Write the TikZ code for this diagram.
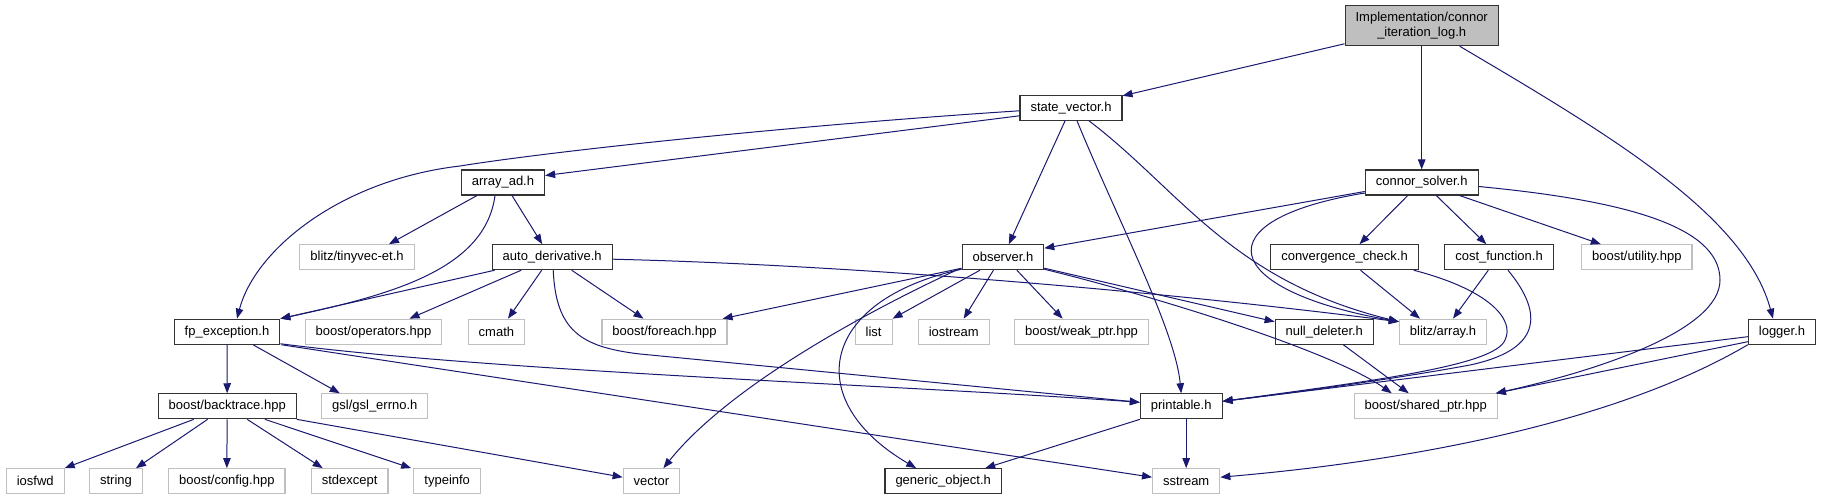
\documentclass[tikz,border=0pt]{standalone}
\usepackage{fontspec}
\setmainfont{Liberation Sans}
\usetikzlibrary{arrows.meta,calc}
\definecolor{edgeblue}{HTML}{191970}
\definecolor{gseventyfive}{HTML}{BFBFBF}
\tikzset{
  box/.style={rectangle, font=\fontsize{13}{15.3}\selectfont, inner xsep=10.5pt, inner ysep=0pt, minimum height=25pt, line width=1.1pt, fill=white},
  fnode/.style={box, draw=black!80},
  gnode/.style={box, draw=gseventyfive},
  rootnode/.style={box, draw=black!80, fill=gseventyfive, align=center, minimum height=40pt},
  edge/.style={draw=edgeblue, line width=1pt, -{Triangle[length=10pt,width=7.5pt]}}
}
\begin{document}
\begin{tikzpicture}[x=1pt,y=-1pt]
\useasboundingbox (0,0) rectangle (1821,500);
% nodes
\node[rootnode] (root) at (1421.7,25.7) {Implementation/connor\\\_iteration\_log.h};
\node[fnode] (state) at (1071,107.8) {state\_vector.h};
\node[fnode] (arrayad) at (503,182.5) {array\_ad.h};
\node[fnode] (connor) at (1421.7,182.5) {connor\_solver.h};
\node[gnode] (tinyvec) at (357,257.2) {blitz/tinyvec-et.h};
\node[fnode] (autod) at (552.2,257.2) {auto\_derivative.h};
\node[fnode] (observer) at (1002.9,257.2) {observer.h};
\node[fnode] (convcheck) at (1344.5,257.2) {convergence\_check.h};
\node[fnode] (costfn) at (1499,257.2) {cost\_function.h};
\node[gnode] (utility) at (1636.8,257.2) {boost/utility.hpp};
\node[fnode] (fpexc) at (227,331.7) {fp\_exception.h};
\node[gnode] (operators) at (373.5,331.7) {boost/operators.hpp};
\node[gnode] (cmath) at (496.4,331.7) {cmath};
\node[gnode] (foreach) at (664.5,331.7) {boost/foreach.hpp};
\node[gnode] (list) at (873.6,331.7) {list};
\node[gnode] (iostream) at (953.7,331.7) {iostream};
\node[gnode] (weakptr) at (1081.6,331.7) {boost/weak\_ptr.hpp};
\node[fnode] (nulldel) at (1324.3,331.7) {null\_deleter.h};
\node[gnode] (blitzarr) at (1443,331.7) {blitz/array.h};
\node[fnode] (logger) at (1782,331.7) {logger.h};
\node[fnode] (backtrace) at (227.2,406.3) {boost/backtrace.hpp};
\node[gnode] (gslerrno) at (374.8,406.3) {gsl/gsl\_errno.h};
\node[fnode] (printable) at (1181.2,406.3) {printable.h};
\node[gnode] (sharedptr) at (1425.7,406.3) {boost/shared\_ptr.hpp};
\node[gnode] (iosfwd) at (35.2,481.2) {iosfwd};
\node[gnode] (string) at (116,481.2) {string};
\node[gnode] (config) at (226.8,481.2) {boost/config.hpp};
\node[gnode] (stdexcept) at (349.7,481.2) {stdexcept};
\node[gnode] (typeinfo) at (447.2,481.2) {typeinfo};
\node[gnode] (vector) at (651.4,481.2) {vector};
\node[fnode] (genobj) at (943.2,481.2) {generic\_object.h};
\node[gnode] (sstream) at (1186.2,481.2) {sstream};
% edges from root
\draw[edge] (root) -- (state);
\draw[edge] (root) -- (connor);
\draw[edge] ($(root.south)+(38,0)$) .. controls (1610,135) and (1745,215) .. ($(logger.north)+(-9,0)$);
% state_vector
\draw[edge] ($(state.west)+(0,3)$) .. controls (800,125) and (560,150) .. (460,166) .. controls (340,180) and (255,250) .. ($(fpexc.north)+(10,0)$);
\draw[edge] ($(state.west)+(0,8)$) -- ($(arrayad.east)+(0,-7)$);
\draw[edge] (state) -- (observer);
\draw[edge] ($(state.south)+(6,0)$) .. controls (1120,225) and (1175,330) .. (printable.north);
\draw[edge] ($(state.south)+(18,0)$) .. controls (1180,190) and (1230,280) .. ($(blitzarr.west)+(0,-10)$);
% array_ad
\draw[edge] ($(arrayad.south)+(-26,0)$) -- ($(tinyvec.north)+(32,0)$);
\draw[edge] ($(arrayad.south)+(9,0)$) -- ($(autod.north)+(-10,0)$);
\draw[edge] ($(arrayad.south)+(-8,0)$) .. controls (485,270) and (390,295) .. (fpexc.north east);
% auto_derivative
\draw[edge] ($(autod.south west)+(3,0)$) -- (fpexc.north east);
\draw[edge] ($(autod.south)+(-31,0)$) -- ($(operators.north)+(36,0)$);
\draw[edge] ($(autod.south)+(-10.5,0)$) -- ($(cmath.north)+(11.6,0)$);
\draw[edge] ($(autod.south)+(19.5,0)$) -- ($(foreach.north)+(-21,0)$);
\draw[edge] ($(autod.south)+(1,0)$) .. controls (556,330) and (580,347) .. (640,354) -- ($(printable.west)+(0,-4)$);
\draw[edge] ($(autod.east)+(0,2)$) .. controls (850,265) and (1150,290) .. ($(blitzarr.west)+(0,-10)$);
% fp_exception
\draw[edge] (fpexc) -- (backtrace);
\draw[edge] ($(fpexc.south)+(26,0)$) -- ($(gslerrno.north)+(-35,0)$);
\draw[edge] ($(fpexc.south east)+(0,-1)$) .. controls (500,372) and (900,385) .. ($(printable.west)+(0,-4)$);
\draw[edge] ($(fpexc.south east)+(1,0)$) -- ($(sstream.west)+(0,-4)$);
% backtrace
\draw[edge] ($(backtrace.south)+(-33.5,0)$) -- (iosfwd.north east);
\draw[edge] ($(backtrace.south)+(-19.6,0)$) -- ($(string.north)+(20,0)$);
\draw[edge] (backtrace) -- (config);
\draw[edge] ($(backtrace.south)+(20,0)$) -- ($(stdexcept.north)+(-27,0)$);
\draw[edge] ($(backtrace.south)+(37.7,0)$) -- ($(typeinfo.north)+(-36,0)$);
\draw[edge] (backtrace.south east) -- ($(vector.west)+(0,-4)$);
% observer
\draw[edge] ($(observer.south west)+(0,-2)$) -- ($(foreach.north east)+(-5,0)$);
\draw[edge] ($(observer.south)+(-23,0)$) -- (list.north east);
\draw[edge] ($(observer.south)+(-9.5,0)$) -- ($(iostream.north)+(10,0)$);
\draw[edge] ($(observer.south)+(14,0)$) -- ($(weakptr.north)+(-19,0)$);
\draw[edge] ($(observer.south west)+(-1,-2)$) .. controls (870,310) and (730,385) .. ($(vector.north)+(12,0)$);
\draw[edge] ($(observer.south west)+(0,-1)$) .. controls (820,300) and (800,400) .. ($(genobj.north)+(-27,0)$);
\draw[edge] ($(observer.east)+(0,11)$) -- ($(nulldel.west)+(0,-10)$);
\draw[edge] ($(observer.south east)+(0,-1)$) .. controls (1150,295) and (1330,350) .. ($(sharedptr.north)+(-34,0)$);
% printable
\draw[edge] (printable.south west) -- ($(genobj.north)+(42,0)$);
\draw[edge] (sstream.north |- printable.south) -- (sstream.north);
% null_deleter
\draw[edge] ($(nulldel.south)+(19,0)$) -- ($(sharedptr.north)+(-17,0)$);
% connor_solver
\draw[edge] ($(connor.west)+(0,9)$) -- ($(observer.east)+(0,-9)$);
\draw[edge] ($(connor.south)+(-14,0)$) -- ($(convcheck.north)+(15,0)$);
\draw[edge] ($(connor.south)+(14.6,0)$) -- ($(costfn.north)+(-12.7,0)$);
\draw[edge] ($(connor.south east)+(-19,0)$) -- ($(utility.north)+(-36,0)$);
\draw[edge] ($(connor.west)+(0,10.5)$) .. controls (1200,220) and (1220,290) .. ($(blitzarr.west)+(0,-10)$);
\draw[edge] ($(connor.east)+(0,4)$) .. controls (1620,200) and (1720,225) .. (1720,280) .. controls (1720,330) and (1600,370) .. ($(sharedptr.north east)+(-2,0)$);
% convergence_check
\draw[edge] ($(convcheck.south)+(16,0)$) -- ($(blitzarr.north)+(-23,0)$);
\draw[edge] ($(convcheck.south east)+(-5,0)$) .. controls (1490,290) and (1515,320) .. (1505,340) .. controls (1495,365) and (1380,380) .. ($(printable.east)+(0,-5)$);
% cost_function
\draw[edge] ($(costfn.south)+(-10.7,0)$) -- ($(blitzarr.north)+(10,0)$);
\draw[edge] ($(costfn.south)+(9,0)$) .. controls (1545,315) and (1540,350) .. (1470,365) .. controls (1400,378) and (1300,392) .. ($(printable.east)+(0,-5)$);
% logger
\draw[edge] ($(logger.west)+(0,5)$) -- ($(printable.east)+(0,-5)$);
\draw[edge] ($(logger.west)+(0,10)$) -- ($(sharedptr.north east)+(-2,0)$);
\draw[edge] (logger.south west) .. controls (1620,420) and (1420,460) .. ($(sstream.east)+(0,-4)$);
\end{tikzpicture}
\end{document}
